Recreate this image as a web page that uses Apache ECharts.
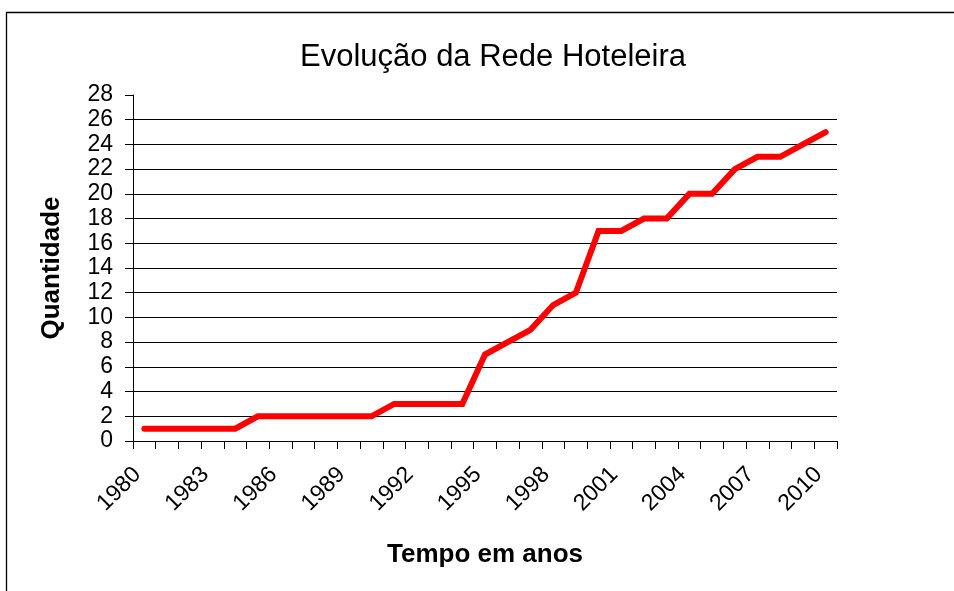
<!DOCTYPE html>
<html>
<head>
<meta charset="utf-8">
<style>
html,body{margin:0;padding:0;background:#fff;}
#chart{width:954px;height:591px;}
</style>
<script src="https://cdn.jsdelivr.net/npm/echarts@6/dist/echarts.min.js"></script>
</head>
<body>
<div id="chart"></div>
<script>
const years = ['1980','1981','1982','1983','1984','1985','1986','1987','1988','1989','1990','1991','1992','1993','1994','1995','1996','1997','1998','1999','2000','2001','2002','2003','2004','2005','2006','2007','2008','2009','2010'];
const quantidade = [1,1,1,1,1,2,2,2,2,2,2,3,3,3,3,7,8,9,11,12,17,17,18,18,20,20,22,23,23,24,25];
const yTicks = {min:0, max:28, interval:2};

const gridColors = [];
for (let v = yTicks.min; v <= yTicks.max; v += yTicks.interval) {
  gridColors.push(v === yTicks.max ? 'rgba(0,0,0,0)' : '#000');
}

const chart = echarts.init(document.getElementById('chart'));
chart.setOption({
  animation: false,
  backgroundColor: '#fff',
  graphic: [{
    type: 'rect',
    shape: {x: 6.5, y: 12.5, width: 1000, height: 700},
    style: {fill: 'none', stroke: '#000', lineWidth: 1.3},
    silent: true
  }],
  title: {
    text: 'Evolução da Rede Hoteleira',
    left: 488, top: 52, textAlign: 'center', textVerticalAlign: 'middle',
    textStyle: {fontFamily: 'Liberation Sans, Arial, sans-serif', fontSize: 31, fontWeight: 'normal', color: '#000'}
  },
  grid: {left: 133, right: 117, top: 95, bottom: 150, containLabel: false},
  xAxis: {
    type: 'category',
    data: years,
    boundaryGap: true,
    name: 'Tempo em anos',
    nameLocation: 'middle',
    nameGap: 101,
    nameTextStyle: {fontFamily: 'Liberation Sans, Arial, sans-serif', fontSize: 26, fontWeight: 'bold', color: '#000'},
    axisLine: {lineStyle: {color: '#000', width: 1}},
    axisTick: {show: true, interval: 0, length: 8, lineStyle: {color: '#000'}},
    axisLabel: {interval: 2, rotate: 45, margin: 23, padding: [0, 10, 0, 0], fontFamily: 'Liberation Sans, Arial, sans-serif', fontSize: 23, color: '#000'},
    splitLine: {show: false}
  },
  yAxis: {
    type: 'value',
    min: yTicks.min, max: yTicks.max, interval: yTicks.interval,
    name: 'Quantidade',
    nameLocation: 'middle',
    nameGap: 68,
    nameTextStyle: {fontFamily: 'Liberation Sans, Arial, sans-serif', fontSize: 26, fontWeight: 'bold', color: '#000'},
    axisLine: {show: true, lineStyle: {color: '#000', width: 1}},
    axisTick: {show: true, length: 8, lineStyle: {color: '#000'}},
    axisLabel: {margin: 20, fontFamily: 'Liberation Sans, Arial, sans-serif', fontSize: 23, color: '#000'},
    splitLine: {show: true, lineStyle: {color: gridColors, width: 1}}
  },
  series: [{
    type: 'line',
    data: quantidade,
    showSymbol: false,
    symbol: 'none',
    lineStyle: {color: '#ff0000', width: 6, cap: 'round', join: 'miter'},
    itemStyle: {color: '#ff0000'}
  }]
});
</script>
</body>
</html>
